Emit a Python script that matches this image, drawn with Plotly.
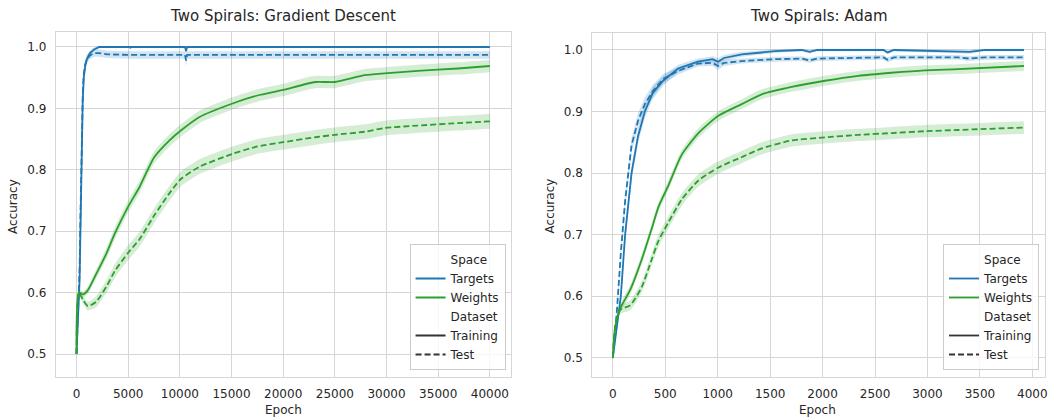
import plotly.graph_objects as go

W, H = 1057, 417

# ---------------- Gradient Descent (left) ----------------
gd_blue_epochs = [0, 150, 300, 400, 500, 600, 700, 850, 1000, 1300, 1700, 2200, 3000,
                  5150, 5200, 5250, 10500, 10600, 10700, 40000]
gd_targets_train = [0.5, 0.56, 0.62, 0.72, 0.83, 0.91, 0.95, 0.97, 0.98, 0.99, 0.996, 1.0, 1.0,
                    1.0, 0.998, 1.0, 1.0, 0.993, 1.0, 1.0]
gd_targets_train_band = [0.01, 0.012, 0.015, 0.015, 0.015, 0.012, 0.01, 0.008, 0.006, 0.004, 0.003, 0.002, 0.001,
                         0.001, 0.002, 0.001, 0.001, 0.004, 0.001, 0.001]
gd_targets_test = [0.5, 0.57, 0.64, 0.74, 0.85, 0.92, 0.955, 0.972, 0.98, 0.986, 0.99, 0.99, 0.988,
                   0.987, 0.986, 0.987, 0.987, 0.978, 0.987, 0.987]
gd_targets_test_band = [0.01, 0.012, 0.015, 0.015, 0.015, 0.012, 0.01, 0.008, 0.007, 0.006, 0.006, 0.006, 0.006,
                        0.006, 0.006, 0.006, 0.006, 0.01, 0.006, 0.006]

gd_green_epochs = [0, 220, 640, 1100, 1900, 2900, 3700, 5000, 6100, 7500, 9000, 10100, 11900,
                   15100, 17500, 20000, 23100, 25000, 27900, 29800, 33000, 36900, 40000]
gd_weights_train = [0.5, 0.6, 0.597, 0.604, 0.63, 0.664, 0.696, 0.74, 0.772, 0.82, 0.848, 0.864, 0.886,
                    0.908, 0.921, 0.93, 0.943, 0.943, 0.954, 0.957, 0.961, 0.965, 0.969]
gd_weights_train_band = [0.005, 0.005, 0.005, 0.006, 0.008, 0.009, 0.01, 0.01, 0.01, 0.01, 0.01, 0.01, 0.01,
                         0.01, 0.01, 0.01, 0.01, 0.01, 0.01, 0.01, 0.01, 0.01, 0.01]
gd_weights_test = [0.5, 0.6, 0.588, 0.578, 0.585, 0.61, 0.635, 0.665, 0.687, 0.725, 0.762, 0.785, 0.805,
                   0.826, 0.838, 0.845, 0.853, 0.857, 0.862, 0.868, 0.872, 0.876, 0.879]
gd_weights_test_band = [0.005, 0.005, 0.006, 0.007, 0.009, 0.01, 0.011, 0.012, 0.012, 0.012, 0.012, 0.012, 0.012,
                        0.012, 0.012, 0.012, 0.012, 0.012, 0.012, 0.012, 0.012, 0.012, 0.012]

# ---------------- Adam (right) ----------------
adam_blue_epochs = [0, 40, 76, 117, 178, 240, 305, 380, 479, 622, 812, 950, 1003, 1060, 1229, 1546,
                    1800, 1875, 1950, 2580, 2620, 2680, 3290, 3400, 3550, 3920]
adam_targets_train = [0.5, 0.55, 0.6, 0.7, 0.8, 0.86, 0.9, 0.93, 0.95, 0.97, 0.981, 0.985, 0.981, 0.987, 0.993, 0.998,
                      1.0, 0.997, 1.0, 1.0, 0.996, 1.0, 0.998, 0.997, 1.0, 1.0]
adam_targets_train_band = [0.004, 0.008, 0.01, 0.012, 0.012, 0.012, 0.011, 0.01, 0.008, 0.006, 0.005, 0.005, 0.006,
                           0.005, 0.004, 0.003, 0.002, 0.003, 0.002, 0.002, 0.003, 0.002, 0.003, 0.003, 0.002, 0.002]
adam_targets_test = [0.5, 0.58, 0.67, 0.755, 0.845, 0.885, 0.912, 0.933, 0.953, 0.966, 0.978, 0.979, 0.974, 0.979,
                     0.982, 0.985, 0.986, 0.983, 0.986, 0.988, 0.984, 0.988, 0.988, 0.986, 0.988, 0.988]
adam_targets_test_band = [0.004, 0.008, 0.01, 0.012, 0.012, 0.012, 0.011, 0.01, 0.008, 0.006, 0.005, 0.005, 0.006,
                          0.005, 0.004, 0.004, 0.004, 0.004, 0.004, 0.004, 0.004, 0.004, 0.004, 0.004, 0.004, 0.004]

adam_green_epochs = [0, 22, 70, 165, 276, 371, 435, 530, 657, 816, 1006, 1229, 1419, 1705, 2022,
                     2340, 2657, 2975, 3292, 3920]
adam_weights_train = [0.5, 0.55, 0.58, 0.61, 0.66, 0.71, 0.745, 0.78, 0.83, 0.865, 0.893, 0.912, 0.928, 0.94, 0.95,
                      0.958, 0.963, 0.967, 0.969, 0.974]
adam_weights_train_band = [0.004, 0.006, 0.007, 0.008, 0.008, 0.008, 0.008, 0.008, 0.008, 0.008, 0.008, 0.008,
                           0.008, 0.008, 0.008, 0.008, 0.008, 0.008, 0.008, 0.008]
adam_weights_test = [0.5, 0.55, 0.578, 0.585, 0.615, 0.66, 0.69, 0.72, 0.757, 0.788, 0.809, 0.826, 0.84, 0.853, 0.858,
                     0.862, 0.865, 0.868, 0.87, 0.874]
adam_weights_test_band = [0.004, 0.006, 0.007, 0.008, 0.009, 0.01, 0.01, 0.01, 0.01, 0.01, 0.01, 0.01,
                          0.01, 0.01, 0.01, 0.01, 0.01, 0.01, 0.01, 0.01]

gd_xticks = [0, 5000, 10000, 15000, 20000, 25000, 30000, 35000, 40000]
gd_xticklabels = ["0", "5000", "10000", "15000", "20000", "25000", "30000", "35000", "40000"]
adam_xticks = [0, 500, 1000, 1500, 2000, 2500, 3000, 3500, 4000]
adam_xticklabels = ["0", "500", "1000", "1500", "2000", "2500", "3000", "3500", "4000"]
yticks = [0.5, 0.6, 0.7, 0.8, 0.9, 1.0]
yticklabels = ["0.5", "0.6", "0.7", "0.8", "0.9", "1.0"]

titles = ["Two Spirals: Gradient Descent", "Two Spirals: Adam"]
legend_labels = ["Space", "Targets", "Weights", "Dataset", "Training", "Test"]

BLUE = "#1f77b4"
GREEN = "#2ca02c"
BLUE_F = "rgba(31,119,180,0.2)"
GREEN_F = "rgba(44,160,44,0.2)"
TXT = "#262626"
GRID = "#d6d6d6"
FONT = "DejaVu Sans"
DASH = "6px,3px"

fig = go.Figure()


def add_series(x, y, band, color, fill, dash, xa, ya, shape):
    up = [a + b for a, b in zip(y, band)]
    lo = [a - b for a, b in zip(y, band)]
    fig.add_trace(go.Scatter(x=x, y=up, mode="lines", line=dict(width=0, color=fill, shape=shape, smoothing=0.6),
                             showlegend=False, hoverinfo="skip", xaxis=xa, yaxis=ya))
    fig.add_trace(go.Scatter(x=x, y=lo, mode="lines", line=dict(width=0, color=fill, shape=shape, smoothing=0.6),
                             fill="tonexty", fillcolor=fill, showlegend=False, hoverinfo="skip",
                             xaxis=xa, yaxis=ya))
    fig.add_trace(go.Scatter(x=x, y=y, mode="lines",
                             line=dict(width=1.8, color=color, dash=dash, shape=shape, smoothing=0.6),
                             showlegend=False, xaxis=xa, yaxis=ya))


add_series(gd_blue_epochs, gd_targets_train, gd_targets_train_band, BLUE, BLUE_F, "solid", "x", "y", "linear")
add_series(gd_blue_epochs, gd_targets_test, gd_targets_test_band, BLUE, BLUE_F, DASH, "x", "y", "linear")
add_series(gd_green_epochs, gd_weights_train, gd_weights_train_band, GREEN, GREEN_F, "solid", "x", "y", "spline")
add_series(gd_green_epochs, gd_weights_test, gd_weights_test_band, GREEN, GREEN_F, DASH, "x", "y", "spline")

add_series(adam_blue_epochs, adam_targets_train, adam_targets_train_band, BLUE, BLUE_F, "solid", "x2", "y2", "linear")
add_series(adam_blue_epochs, adam_targets_test, adam_targets_test_band, BLUE, BLUE_F, DASH, "x2", "y2", "linear")
add_series(adam_green_epochs, adam_weights_train, adam_weights_train_band, GREEN, GREEN_F, "solid", "x2", "y2",
           "spline")
add_series(adam_green_epochs, adam_weights_test, adam_weights_test_band, GREEN, GREEN_F, DASH, "x2", "y2", "spline")

# legend entries
leg_styles = [("rgba(0,0,0,0)", "solid"), (BLUE, "solid"), (GREEN, "solid"),
              ("rgba(0,0,0,0)", "solid"), ("#333333", "solid"), ("#333333", DASH)]
for lg, xa, ya in [("legend", "x", "y"), ("legend2", "x2", "y2")]:
    for name, (c, d) in zip(legend_labels, leg_styles):
        fig.add_trace(go.Scatter(x=[None], y=[None], mode="lines", name=name,
                                 line=dict(color=c, width=1.8, dash=d), legend=lg,
                                 xaxis=xa, yaxis=ya))

axis_common = dict(showline=True, linecolor=GRID, linewidth=1, mirror=True, showgrid=True,
                   gridcolor=GRID, gridwidth=1, zeroline=False, ticks="outside", ticklen=6,
                   tickcolor="rgba(0,0,0,0)", tickfont=dict(family=FONT, size=12, color=TXT))

legend_common = dict(bgcolor="rgba(255,255,255,0.8)", bordercolor="#cccccc", borderwidth=1,
                     font=dict(family=FONT, size=12, color=TXT), tracegroupgap=0, itemwidth=30,
                     traceorder="normal", yanchor="bottom", xanchor="right")

ytop = 1 - 32 / H
ybot = 1 - 377 / H
fig.update_layout(
    width=W, height=H, margin=dict(l=0, r=0, t=0, b=0),
    paper_bgcolor="white", plot_bgcolor="white",
    font=dict(family=FONT, size=12, color=TXT),
    xaxis=dict(domain=[56 / W, 512 / W], range=[-2000, 42000], tickvals=gd_xticks, ticktext=gd_xticklabels,
               anchor="y", **axis_common),
    yaxis=dict(domain=[ybot, ytop], range=[0.4626, 1.0244], tickvals=yticks, ticktext=yticklabels, anchor="x",
               **axis_common),
    xaxis2=dict(domain=[594 / W, 1048 / W], range=[-196, 4121], tickvals=adam_xticks, ticktext=adam_xticklabels,
                anchor="y2", **axis_common),
    yaxis2=dict(domain=[ybot, 1 - 33 / H], range=[0.4686, 1.0276], tickvals=yticks, ticktext=yticklabels,
                anchor="x2", **axis_common),
    legend=dict(x=507 / W, y=1 - 370 / H, **legend_common),
    legend2=dict(x=1042 / W, y=1 - 370 / H, **legend_common),
    showlegend=True,
)

ann = []
for tx, cx in zip(titles, [284, 821]):
    ann.append(dict(text=tx, x=cx / W, y=1 - 16 / H, xref="paper", yref="paper", showarrow=False,
                    xanchor="center", yanchor="middle", font=dict(family=FONT, size=15, color=TXT)))
for cx in [284, 820]:
    ann.append(dict(text="Epoch", x=cx / W, y=1 - 410 / H, xref="paper", yref="paper", showarrow=False,
                    xanchor="center", yanchor="middle", font=dict(family=FONT, size=12, color=TXT)))
for cx in [13, 552]:
    ann.append(dict(text="Accuracy", x=cx / W, y=1 - 206 / H, xref="paper", yref="paper", showarrow=False,
                    textangle=-90, xanchor="center", yanchor="middle",
                    font=dict(family=FONT, size=12, color=TXT)))
fig.update_layout(annotations=ann)

fig.write_html("out.html")
